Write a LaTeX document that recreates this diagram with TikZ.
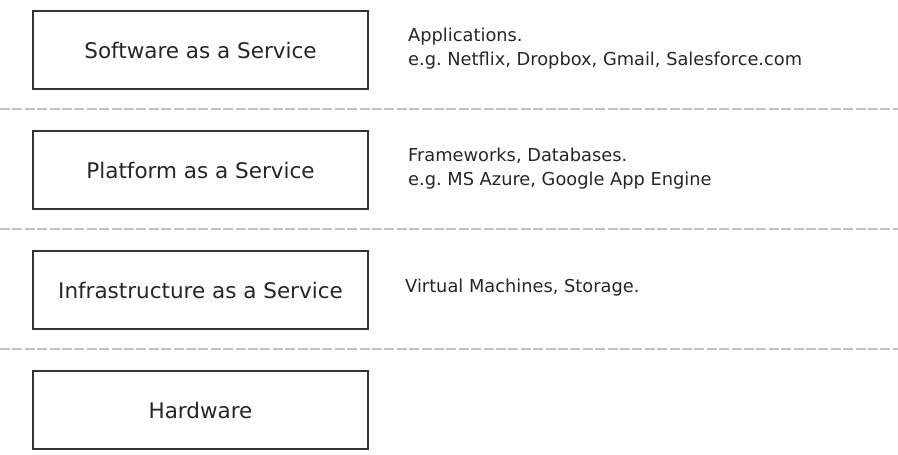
\documentclass[tikz,border=0pt]{standalone}
\usepackage{fontspec}
\setmainfont{DejaVu Sans}
\frenchspacing
\begin{document}
\begin{tikzpicture}[x=1pt,y=-1pt,
  layerbox/.style={draw=black!80, line width=1.6pt, minimum width=335pt, minimum height=78pt,
    inner sep=0pt, font=\fontsize{21.5}{26}\selectfont, text=black!85},
  note/.style={anchor=west, align=left, inner sep=0pt, text=black!85,
    font=\fontsize{17.8}{24}\selectfont},
  divider/.style={draw=black!24, line width=2.2pt, dash pattern=on 10pt off 2.4pt}]
  \useasboundingbox (0,0) rectangle (898,455);

  % service layers
  \node[layerbox] (saas) at (200.5,50)  {Software as a Service};
  \node[layerbox] (paas) at (200.5,170) {Platform as a Service};
  \node[layerbox] (iaas) at (200.5,290) {Infrastructure as a Service};
  \node[layerbox] (hw)   at (200.5,410) {Hardware};

  % descriptions
  \node[note] (saasnote) at (408,49)  {Applications.\\e.g. Netflix, Dropbox, Gmail, Salesforce.com};
  \node[note] (paasnote) at (408,169) {Frameworks, Databases.\\e.g. MS Azure, Google App Engine};
  \node[note] (iaasnote) at (405,288) {Virtual Machines, Storage.};

  % dashed separators
  \coordinate (d1l) at (0,109);  \coordinate (d1r) at (898,109);
  \coordinate (d2l) at (0,229);  \coordinate (d2r) at (898,229);
  \coordinate (d3l) at (0,349);  \coordinate (d3r) at (898,349);
  \draw[divider] (d1l) -- (d1r);
  \draw[divider] (d2l) -- (d2r);
  \draw[divider] (d3l) -- (d3r);
\end{tikzpicture}
\end{document}
